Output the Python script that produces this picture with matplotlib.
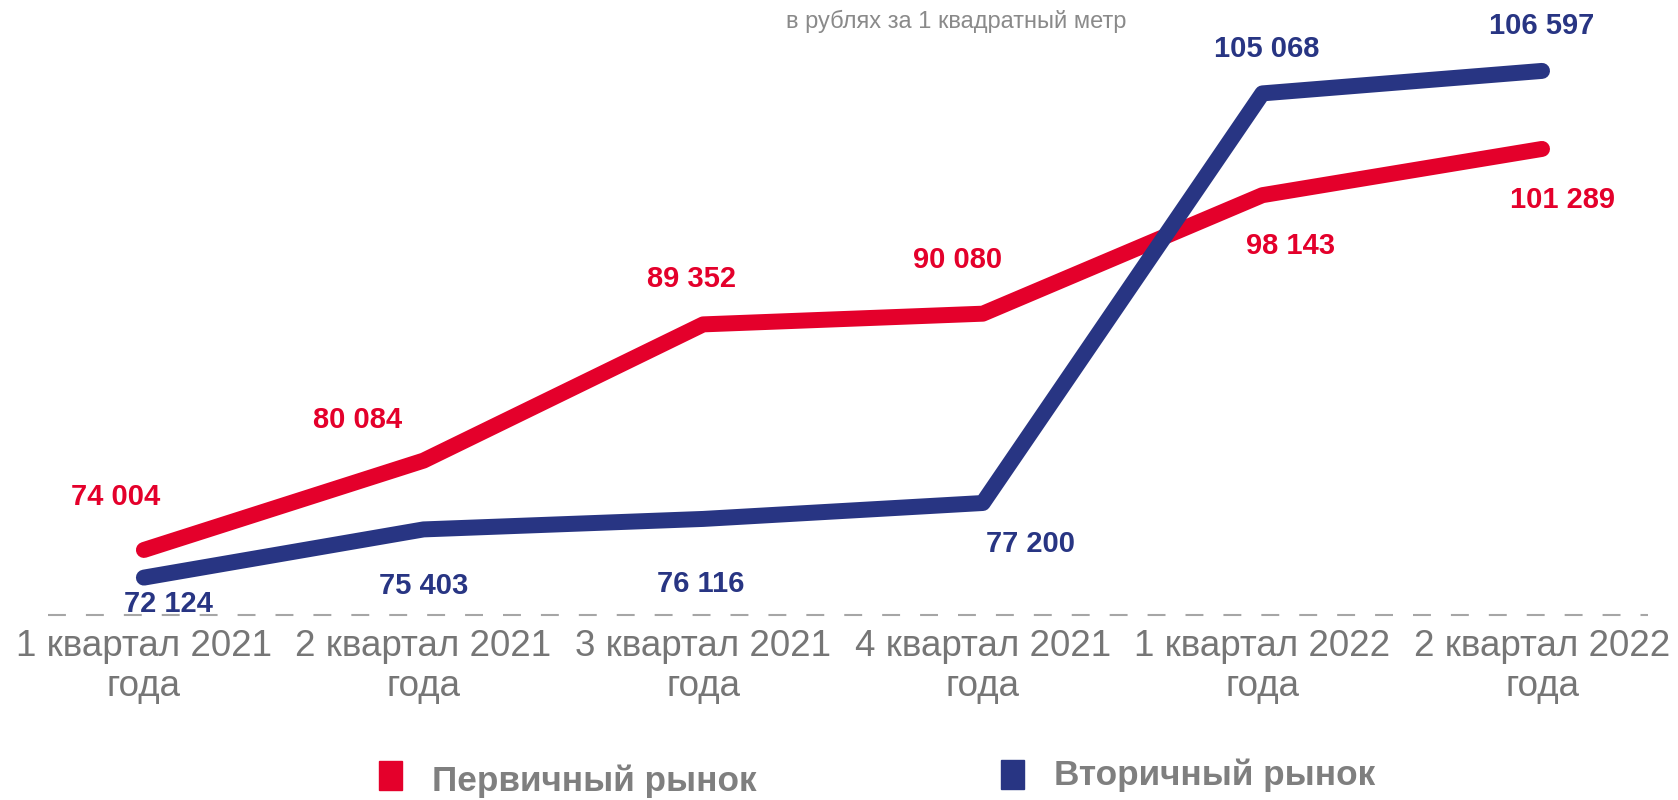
import matplotlib.pyplot as plt
from matplotlib.patches import Rectangle

plt.rcParams['font.family'] = ['Liberation Sans', 'DejaVu Sans']

# --- данные ---
quarters = ['1 квартал 2021\nгода', '2 квартал 2021\nгода', '3 квартал 2021\nгода',
            '4 квартал 2021\nгода', '1 квартал 2022\nгода', '2 квартал 2022\nгода']
primary = [74004, 80084, 89352, 90080, 98143, 101289]
secondary = [72124, 75403, 76116, 77200, 105068, 106597]
primary_name = 'Первичный рынок'
secondary_name = 'Вторичный рынок'
subtitle = 'в рублях за 1 квадратный метр'

RED = '#e4002b'
BLUE = '#283583'
GRAY = '#767676'

# смещения подписей (в пикселях) от точки
red_off = [(-28, 53), (-66, 41), (-12, 45), (-25, 54), (28, -51), (20, -51)]
blue_off = [(25, -26), (0, -57), (-2, -65), (48, -41), (4, 44), (0, 45)]

W, H = 1678, 800
fig = plt.figure(figsize=(W / 100, H / 100), dpi=100)
ax = fig.add_axes([48 / W, 185 / H, 1600 / W, 575 / H])

x = list(range(len(quarters)))
ax.plot(x, primary, color=RED, lw=11.5, solid_capstyle='round', zorder=3)
ax.plot(x, secondary, color=BLUE, lw=11.5, solid_capstyle='round', zorder=4)

ax.set_xlim(-0.343, 5.379)
ax.set_ylim(69580, 108700)

for xi, v, off in zip(x, primary, red_off):
    ax.annotate(f'{v:,}'.replace(',', ' '), (xi, v), xytext=off, textcoords='offset pixels',
                ha='center', va='center', color=RED, fontsize=21, fontweight='bold',
                annotation_clip=False)
for xi, v, off in zip(x, secondary, blue_off):
    ax.annotate(f'{v:,}'.replace(',', ' '), (xi, v), xytext=off, textcoords='offset pixels',
                ha='center', va='center', color=BLUE, fontsize=21, fontweight='bold',
                annotation_clip=False)

# оси
for s in ax.spines.values():
    s.set_visible(False)
ax.axhline(69580, color='#a6a6a6', lw=1.5, dashes=(8.6, 9.6), clip_on=False, zorder=1)
ax.set_yticks([])
ax.set_xticks(x)
ax.set_xticklabels(quarters, fontsize=26.5, color=GRAY, linespacing=1.2)
ax.tick_params(axis='x', length=0, pad=10)

fig.text(956 / W, 1 - 21 / H, subtitle, ha='center', va='center', fontsize=17, color='#8a8a8a')

# легенда
fig.patches.append(Rectangle((379 / W, 1 - 790 / H), 23 / W, 29 / H, color=RED,
                             transform=fig.transFigure, figure=fig))
fig.patches.append(Rectangle((1001 / W, 1 - 789 / H), 23 / W, 29 / H, color=BLUE,
                             transform=fig.transFigure, figure=fig))
fig.text(432 / W, 1 - 781 / H, primary_name, ha='left', va='center', fontsize=25.3,
         fontweight='bold', color='#7f7f7f')
fig.text(1054 / W, 1 - 775 / H, secondary_name, ha='left', va='center', fontsize=25.3,
         fontweight='bold', color='#7f7f7f')

fig.savefig('out.png', dpi=100)
